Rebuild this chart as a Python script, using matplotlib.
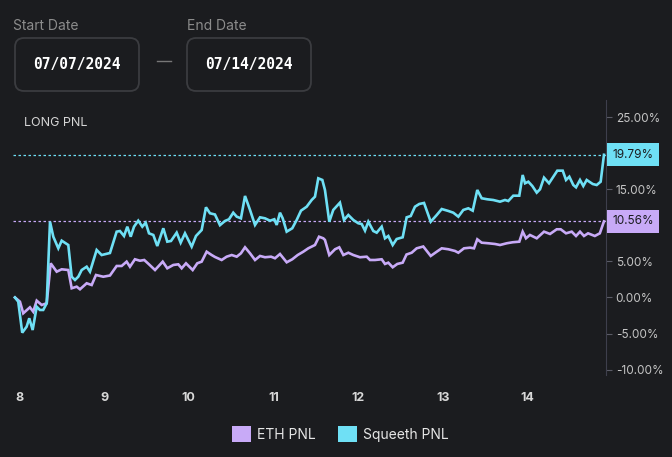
import matplotlib
matplotlib.use("Agg")
import matplotlib.pyplot as plt
from matplotlib.patches import FancyBboxPatch, Patch

# ---- data (day of July 2024, PNL in %) ----
sqth_day = [7.949, 7.988, 8.035, 8.087, 8.118, 8.158, 8.206, 8.244, 8.283, 8.324,
            8.363, 8.402, 8.461, 8.501, 8.579, 8.619, 8.658, 8.697, 8.737, 8.796,
            8.835, 8.914, 8.973, 9.071, 9.150, 9.189, 9.237, 9.276, 9.316, 9.355,
            9.405, 9.453, 9.493, 9.532, 9.583, 9.630, 9.701, 9.748, 9.792, 9.859,
            9.906, 9.957, 10.036, 10.087, 10.154, 10.205, 10.252, 10.311, 10.370, 10.429,
            10.477, 10.527, 10.568, 10.618, 10.666, 10.725, 10.784, 10.843, 10.902, 10.961,
            11.012, 11.040, 11.079, 11.111, 11.158, 11.224, 11.276, 11.327, 11.394, 11.453,
            11.492, 11.531, 11.579, 11.610, 11.661, 11.708, 11.787, 11.835, 11.886, 11.945,
            12.004, 12.044, 12.083, 12.122, 12.181, 12.221, 12.280, 12.319, 12.358, 12.410,
            12.457, 12.528, 12.575, 12.623, 12.673, 12.724, 12.780, 12.859, 12.930, 12.989,
            13.067, 13.126, 13.185, 13.244, 13.303, 13.355, 13.409, 13.461, 13.527, 13.598,
            13.677, 13.736, 13.775, 13.834, 13.905, 13.945, 13.973, 14.012, 14.059, 14.111,
            14.150, 14.197, 14.256, 14.307, 14.354, 14.418, 14.457, 14.496, 14.543, 14.575,
            14.622, 14.661, 14.701, 14.772, 14.819, 14.866, 14.905]
sqth_pnl = [0.00, -0.58, -4.88, -4.05, -2.88, -4.51, -1.28, -1.73, -1.73, -0.80,
            10.51, 8.43, 6.82, 7.88, 7.28, 2.88, 2.43, 2.88, 3.81, 4.27,
            3.58, 6.59, 5.89, 6.17, 9.13, 9.22, 8.53, 9.82, 8.43, 9.82,
            10.65, 9.82, 10.37, 8.90, 8.67, 7.14, 9.60, 7.74, 7.84, 8.99,
            7.60, 8.90, 7.05, 8.53, 9.36, 12.51, 11.68, 11.51, 10.03, 10.61,
            10.85, 11.76, 11.21, 10.98, 14.08, 12.14, 10.06, 11.12, 10.98, 10.65,
            10.85, 10.06, 11.76, 10.98, 9.13, 9.60, 10.75, 12.04, 12.59, 13.52,
            13.98, 16.53, 16.30, 14.91, 10.51, 12.14, 13.15, 10.75, 11.44, 10.75,
            10.29, 10.19, 9.27, 10.51, 9.22, 8.99, 9.82, 8.21, 8.53, 7.28,
            8.11, 8.35, 11.12, 11.30, 12.59, 12.97, 13.11, 10.51, 11.44, 12.27,
            12.00, 11.76, 11.21, 12.14, 12.37, 12.04, 14.91, 13.76, 13.62, 13.52,
            13.29, 13.52, 13.38, 14.12, 14.12, 16.99, 15.84, 16.06, 15.46, 14.54,
            15.01, 16.62, 15.84, 16.75, 17.59, 17.59, 16.30, 16.75, 15.60, 15.28,
            16.30, 15.46, 16.30, 15.74, 15.60, 16.06, 19.79]

eth_day = [7.949, 8.008, 8.047, 8.126, 8.165, 8.206, 8.265, 8.324, 8.371, 8.442,
           8.501, 8.579, 8.619, 8.678, 8.717, 8.796, 8.855, 8.906, 8.992, 9.071,
           9.150, 9.209, 9.268, 9.307, 9.366, 9.425, 9.476, 9.532, 9.603, 9.694,
           9.748, 9.819, 9.878, 9.918, 9.969, 10.048, 10.102, 10.154, 10.213, 10.272,
           10.311, 10.390, 10.449, 10.509, 10.568, 10.618, 10.666, 10.725, 10.784, 10.843,
           10.902, 10.973, 11.020, 11.079, 11.158, 11.224, 11.288, 11.354, 11.413, 11.492,
           11.540, 11.590, 11.610, 11.661, 11.729, 11.779, 11.827, 11.886, 11.945, 12.024,
           12.103, 12.142, 12.201, 12.280, 12.319, 12.358, 12.410, 12.464, 12.528, 12.573,
           12.634, 12.693, 12.771, 12.859, 12.930, 12.989, 13.067, 13.146, 13.185, 13.252,
           13.323, 13.370, 13.409, 13.461, 13.539, 13.618, 13.677, 13.757, 13.827, 13.905,
           13.945, 13.984, 14.031, 14.111, 14.197, 14.268, 14.347, 14.394, 14.457, 14.524,
           14.575, 14.622, 14.669, 14.717, 14.797, 14.856, 14.905]
eth_pnl = [0.00, -0.58, -2.19, -1.36, -1.97, -0.44, -1.04, -0.80, 4.74, 3.58,
           3.91, 3.81, 1.28, 1.50, 1.14, 1.97, 1.73, 3.12, 2.88, 3.05,
           4.37, 4.37, 4.97, 4.27, 5.30, 5.10, 5.20, 4.60, 3.81, 4.97,
           4.05, 4.51, 4.60, 4.05, 4.74, 3.81, 4.74, 4.97, 6.35, 5.89,
           5.62, 5.20, 5.66, 5.89, 5.66, 6.13, 6.96, 6.13, 5.20, 5.76,
           5.58, 5.66, 5.44, 6.03, 4.88, 5.30, 5.89, 6.35, 6.82, 7.28,
           8.43, 8.21, 7.98, 5.89, 6.69, 6.96, 5.89, 6.21, 5.89, 5.58,
           5.66, 5.20, 5.20, 5.30, 4.65, 4.83, 4.19, 4.65, 4.83, 5.96,
           6.21, 6.82, 7.07, 5.76, 6.35, 6.82, 6.69, 6.45, 6.21, 6.82,
           6.91, 6.82, 8.07, 7.60, 7.52, 7.42, 7.28, 7.52, 7.66, 7.74,
           9.13, 8.21, 8.67, 8.21, 9.13, 8.81, 9.46, 9.46, 8.90, 9.13,
           8.53, 9.13, 8.53, 8.90, 8.53, 8.90, 10.56]

x_ticks = [8, 9, 10, 11, 12, 13, 14]
y_ticks = [-10, -5, 0, 5, 10, 15, 20, 25]

BG = "#1b1c1f"
ETH_C = "#c8aaf7"
SQTH_C = "#6fe0f5"

fig = plt.figure(figsize=(6.72, 4.57), dpi=100, facecolor=BG)
plt.rcParams["font.family"] = ["Inter", "DejaVu Sans"]

# overlay in pixel units for the date pickers / labels
ov = fig.add_axes([0, 0, 1, 1])
ov.set_xlim(0, 672)
ov.set_ylim(457, 0)
ov.axis("off")
ov.patch.set_alpha(0)

ov.text(13, 26, "Start Date", color="#8c8c8c", fontsize=10, va="center")
ov.text(187, 26, "End Date", color="#8c8c8c", fontsize=10, va="center")
for x0, label in [(15, "07/07/2024"), (187, "07/14/2024")]:
    box = FancyBboxPatch((x0, 38), 124, 53, boxstyle="round,pad=0,rounding_size=9",
                         fc=BG, ec="#3b3c40", lw=1.3)
    ov.add_patch(box)
    ov.text(x0 + 62, 64.5, label, color="white", fontsize=10.5, fontweight="bold",
            family="DejaVu Sans Mono", ha="center", va="center")
ov.plot([157, 171], [61, 61], color="#777777", lw=1)
ov.text(24, 123, "LONG PNL", color="#d6d6d6", fontsize=9, va="center")

# main chart
ax = fig.add_axes([13 / 672, 82 / 457, 593 / 672, 275 / 457])
ax.set_facecolor("none")
ax.plot(eth_day, eth_pnl, color=ETH_C, lw=1.9, solid_joinstyle="miter")
ax.plot(sqth_day, sqth_pnl, color=SQTH_C, lw=1.9, solid_joinstyle="miter")

# last-value guide lines and labels
for vals, c in [(sqth_pnl, SQTH_C), (eth_pnl, ETH_C)]:
    ax.axhline(vals[-1], color=c, lw=0.9, ls=(0, (2, 2)), zorder=1)
    ax.annotate(f"{vals[-1]:.2f}%", xy=(1, vals[-1]), xycoords=ax.get_yaxis_transform(),
                xytext=(4.5, 0), textcoords="offset points", ha="left", va="center",
                fontsize=8.5, color="#1b1c1f",
                bbox=dict(boxstyle="square,pad=0.45", fc=c, ec="none"),
                annotation_clip=False, zorder=5)

ax.set_xlim(7.926, 14.929)
ax.set_ylim(-10.75, 27.39)
ax.set_xticks(x_ticks)
ax.set_xticklabels([str(t) for t in x_ticks], color="#d8d8d8", fontsize=9, fontweight="bold")
ax.tick_params(axis="x", length=0, pad=12)
ax.yaxis.tick_right()
ax.set_yticks(y_ticks)
# 10% and 20% sit under the last-value boxes, so they are left blank
ax.set_yticklabels(["" if t in (10, 20) else f"{t:.2f}%" for t in y_ticks],
                   color="#c4c4c4", fontsize=8.5)
ax.tick_params(axis="y", length=4, color="#5a5b66", pad=3)
for s in ["top", "left", "bottom"]:
    ax.spines[s].set_visible(False)
ax.spines["right"].set_color("#3e3f4c")

handles = [Patch(fc=ETH_C, ec="none", label="ETH PNL"),
           Patch(fc=SQTH_C, ec="none", label="Squeeth PNL")]
leg = fig.legend(handles=handles, loc="center", bbox_to_anchor=(340 / 672, 1 - 434 / 457),
                 ncol=2, frameon=False, fontsize=10, handlelength=1.4, handleheight=1.4,
                 columnspacing=1.6, handletextpad=0.4)
for t in leg.get_texts():
    t.set_color("#e6e6e6")

fig.savefig("out.png", dpi=100, facecolor=BG)
